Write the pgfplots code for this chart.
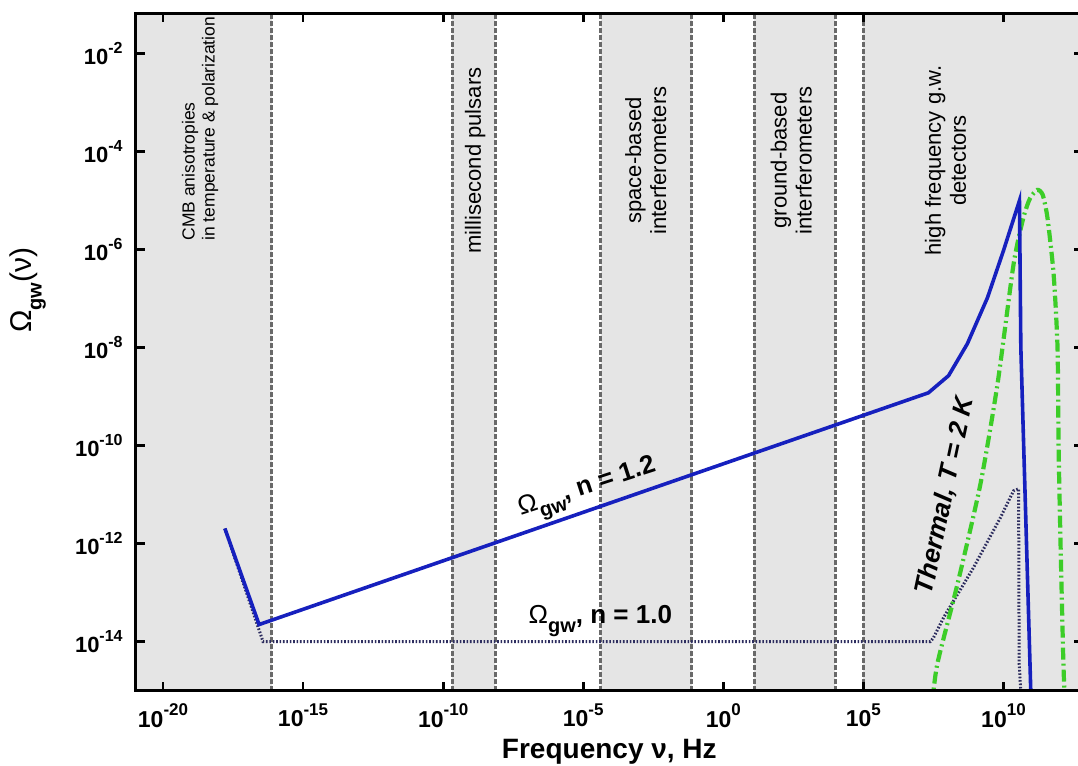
\documentclass[border=0pt]{standalone}
\usepackage{fontspec}
\setmainfont{Liberation Sans}
\usepackage{pgfplots}
\pgfplotsset{compat=1.18}

\definecolor{band}{RGB}{229,229,229}
\definecolor{sep}{RGB}{105,105,105}
\definecolor{gwblue}{RGB}{22,32,190}
\definecolor{gwdot}{RGB}{45,45,95}
\definecolor{thermal}{RGB}{60,205,40}

% tick labels 10^k, bold
\newcommand{\xp}[1]{\textbf{10\raisebox{0.5em}{\fontsize{8.5}{9}\selectfont #1}}}
\newcommand{\yp}[1]{\textbf{10\raisebox{0.5em}{\fontsize{8}{8}\selectfont #1}}}
\newcommand{\Ogw}{Ω\raisebox{-0.35em}{\fontsize{10}{10}\selectfont\bfseries gw}}

\begin{document}
\begin{tikzpicture}
\useasboundingbox (-67.85pt,-37.65pt) rectangle (471.15pt,345.35pt);
\begin{axis}[
    at={(0,0)}, anchor=south west,
    scale only axis,
    width=473.65pt, height=338.85pt,
    xmode=log, ymode=log,
    xmin=1.06e-21, xmax=6.9e12,
    ymin=1e-15, ymax=0.0676,
    xtick={1e-20,1e-15,1e-10,1e-5,1,1e5,1e10},
    xticklabels={\xp{-20},\xp{-15},\xp{-10},\xp{-5},\xp{0},\xp{5},\xp{10}},
    ytick={1e-14,1e-12,1e-10,1e-8,1e-6,1e-4,1e-2},
    yticklabels={\yp{-14},\yp{-12},\yp{-10},\yp{-8},\yp{-6},\yp{-4},\yp{-2}},
    xminorticks=false, yminorticks=false,
    xticklabel style={font=\fontsize{11.5}{13}\selectfont, yshift=-3pt},
    yticklabel style={font=\fontsize{11}{12}\selectfont, xshift=-3pt},
    major tick length=4.5pt,
    tick style={line width=1.4pt, black},
    axis line style={line width=1.5pt},
    axis on top,
    xlabel={\textbf{Frequency ν, Hz}},
    xlabel style={font=\fontsize{14}{16}\selectfont, at={(axis description cs:0.5,-0.09)}, anchor=center},
    ylabel={\Ogw(ν)},
    ylabel style={font=\fontsize{15}{18}\selectfont, at={(axis description cs:-0.114,0.591)}, anchor=center},
]
% frequency bands
\addplot[fill=band, draw=none] coordinates {(1.06e-21,1e-15) (7.6e-17,1e-15) (7.6e-17,0.0676) (1.06e-21,0.0676)};
\addplot[fill=band, draw=none] coordinates {(2.14e-10,1e-15) (7.24e-9,1e-15) (7.24e-9,0.0676) (2.14e-10,0.0676)};
\addplot[fill=band, draw=none] coordinates {(4.27e-5,1e-15) (0.0741,1e-15) (0.0741,0.0676) (4.27e-5,0.0676)};
\addplot[fill=band, draw=none] coordinates {(12.6,1e-15) (1e4,1e-15) (1e4,0.0676) (12.6,0.0676)};
\addplot[fill=band, draw=none] coordinates {(1e5,1e-15) (6.9e12,1e-15) (6.9e12,0.0676) (1e5,0.0676)};

% band boundaries
\pgfplotsset{sepline/.style={sep, line width=1.6pt, dash pattern=on 2.4pt off 1.1pt}}
\addplot[sepline] coordinates {(7.6e-17,1e-15) (7.6e-17,0.0676)};
\addplot[sepline] coordinates {(2.14e-10,1e-15) (2.14e-10,0.0676)};
\addplot[sepline] coordinates {(7.24e-9,1e-15) (7.24e-9,0.0676)};
\addplot[sepline] coordinates {(4.27e-5,1e-15) (4.27e-5,0.0676)};
\addplot[sepline] coordinates {(0.0741,1e-15) (0.0741,0.0676)};
\addplot[sepline] coordinates {(12.6,1e-15) (12.6,0.0676)};
\addplot[sepline] coordinates {(1e4,1e-15) (1e4,0.0676)};
\addplot[sepline] coordinates {(1e5,1e-15) (1e5,0.0676)};

% Omega_gw, n = 1.0
\addplot[gwdot, line width=1.5pt, dash pattern=on 0.8pt off 0.9pt] coordinates {
(1.62e-18,2.04e-12) (3.72e-17,1e-14) (2.45e7,1e-14) (3.16e7,1.2e-14) (7.24e7,3.09e-14)
(8.51e8,3.24e-13) (7.76e9,3.39e-12) (2.29e10,1.2e-11) (3.47e10,1.32e-11)
(3.63e10,3.55e-15) (4.47e10,5e-16)};

% thermal spectrum, T = 2 K
\addplot[thermal, line width=2.1pt, dash pattern=on 6pt off 2pt on 1pt off 2pt, smooth, tension=0.4] coordinates {
(2.82e7,5e-16) (4.37e7,3.55e-15) (2.29e8,1.51e-13) (1.51e9,1.66e-11) (6.17e9,1.86e-9)
(2.29e10,5.01e-7) (5.13e10,4.47e-6) (8.91e10,1.12e-5) (1.62e11,1.66e-5) (2.51e11,1.32e-5)
(3.72e11,4.47e-6) (6.17e11,3.16e-7) (8.51e11,1e-8) (9.33e11,7.94e-11) (1.12e12,5.01e-13)
(1.38e12,3.55e-15) (1.58e12,5e-16)};

% Omega_gw, n = 1.2
\addplot[gwblue, line width=1.8pt] coordinates {
(1.62e-18,2.04e-12) (2.69e-17,2.24e-14) (2.09e7,1.2e-9) (1.10e8,2.69e-9) (5.13e8,1.2e-8)
(2.69e9,1.05e-7) (1e10,9.55e-7) (3.72e10,1e-5) (4.17e10,1e-8) (9.77e10,5e-16)};

% band labels
\node[rotate=90, anchor=west, align=left, inner sep=0pt, font=\fontsize{8.75}{10}\selectfont]
  at (axis cs:2.09e-19,1.51e-6) {CMB anisotropies\\in temperature \& polarization};
\node[rotate=90, align=center, font=\fontsize{11}{12.5}\selectfont] at (axis cs:1.38e-9,6.61e-5) {millisecond pulsars};
\node[rotate=90, align=center, font=\fontsize{11}{12.5}\selectfont] at (axis cs:1.70e-3,6.61e-5) {space-based\\interferometers};
\node[rotate=90, align=center, font=\fontsize{11}{12.5}\selectfont] at (axis cs:269,6.61e-5) {ground-based\\interferometers};
\node[rotate=90, align=center, font=\fontsize{11}{12.5}\selectfont] at (axis cs:8.51e7,6.61e-5) {high frequency g.w.\\detectors};

% curve labels
\node[rotate=18, font=\fontsize{13}{15}\selectfont] at (axis cs:1.51e-5,1.2e-11) {\Ogw\textbf{, n = 1.2}};
\node[font=\fontsize{13}{15}\selectfont] at (axis cs:4.07e-5,2.69e-14) {\Ogw\textbf{, n = 1.0}};
\node[rotate=78, font=\fontsize{13}{15}\selectfont\bfseries\itshape] at (axis cs:8.51e7,9.55e-12) {Thermal, T = 2 K};
\end{axis}
\end{tikzpicture}
\end{document}
